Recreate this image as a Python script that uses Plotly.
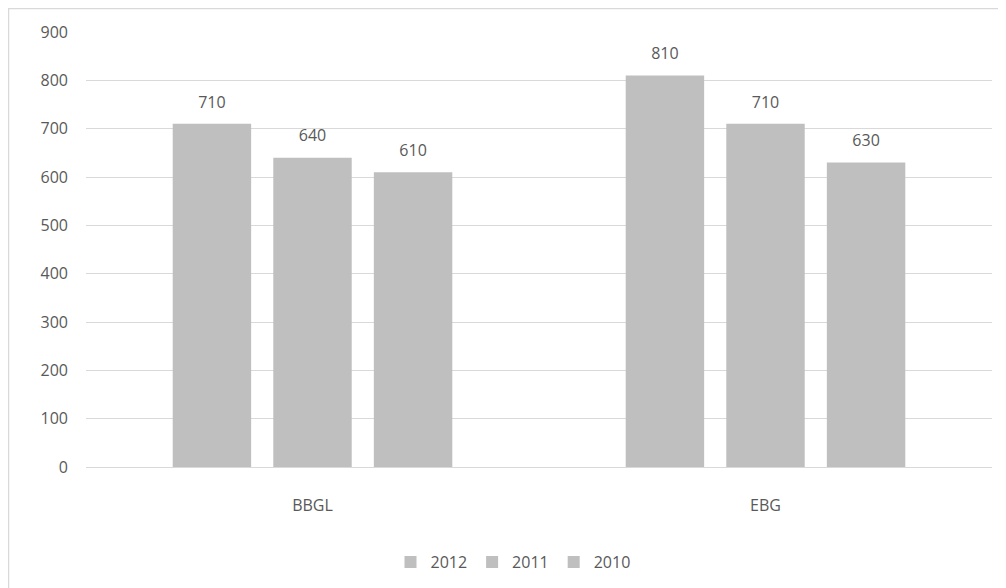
import plotly.graph_objects as go

categories = ["BBGL", "EBG"]
series_names = ["2012", "2011", "2010"]
values_2012 = [710, 810]
values_2011 = [640, 710]
values_2010 = [610, 630]
y_ticks = [0, 100, 200, 300, 400, 500, 600, 700, 800, 900]

series_values = [values_2012, values_2011, values_2010]

FONT = "Open Sans"
TXT = "#595959"
BAR = "#BFBFBF"
GRID = "#D9D9D9"
FS = 16

fig = go.Figure()
for name, vals in zip(series_names, series_values):
    fig.add_trace(go.Bar(
        x=categories, y=vals, name=name, offsetgroup=name,
        marker=dict(color=BAR, line=dict(width=0)),
    ))
for name, vals in zip(series_names, series_values):
    fig.add_trace(go.Scatter(
        x=categories, y=vals, offsetgroup=name, mode="markers+text",
        marker=dict(size=18, color="rgba(0,0,0,0)"),
        text=[str(v) for v in vals], textposition="top center",
        textfont=dict(family=FONT, size=FS, color=TXT),
        showlegend=False, cliponaxis=False, hoverinfo="skip",
    ))

# the page has an 8px body margin, so the figure starts at (8, 8)
W, H = 1006, 588
L, R, T, B = 78, 22, 24, 129
pw, ph = W - L - R, H - T - B

def px_x(p):
    return (p - L) / pw

def px_y(p):
    return (H - B - p) / ph

fig.update_layout(
    width=W, height=H,
    margin=dict(l=L, r=R, t=T, b=B, pad=0),
    paper_bgcolor="white", plot_bgcolor="white",
    barmode="group", bargap=0.334, bargroupgap=0.22,
    scattermode="group", scattergap=0.334,
    font=dict(family=FONT, size=FS, color=TXT),
    showlegend=True,
    legend=dict(orientation="h", x=px_x(505), xanchor="center",
                y=px_y(554), yanchor="middle",
                font=dict(family=FONT, size=FS, color=TXT),
                traceorder="normal", itemwidth=30),
    xaxis=dict(showgrid=False, showline=True, linecolor=GRID, linewidth=1,
               ticks="", ticklabelstandoff=24,
               tickfont=dict(family=FONT, size=FS, color=TXT)),
    yaxis=dict(range=[0, 900], tickvals=y_ticks, showgrid=True, gridcolor=GRID,
               gridwidth=1, zeroline=False, showline=False, ticks="",
               ticklabelstandoff=17,
               tickfont=dict(family=FONT, size=FS, color=TXT)),
    shapes=[dict(type="rect", xref="paper", yref="paper",
                 x0=px_x(0.5), x1=px_x(W + 10), y0=px_y(H + 10), y1=px_y(0.5),
                 line=dict(color=GRID, width=1.5), fillcolor="rgba(0,0,0,0)",
                 layer="below")],
)

fig.write_html("out.html")
